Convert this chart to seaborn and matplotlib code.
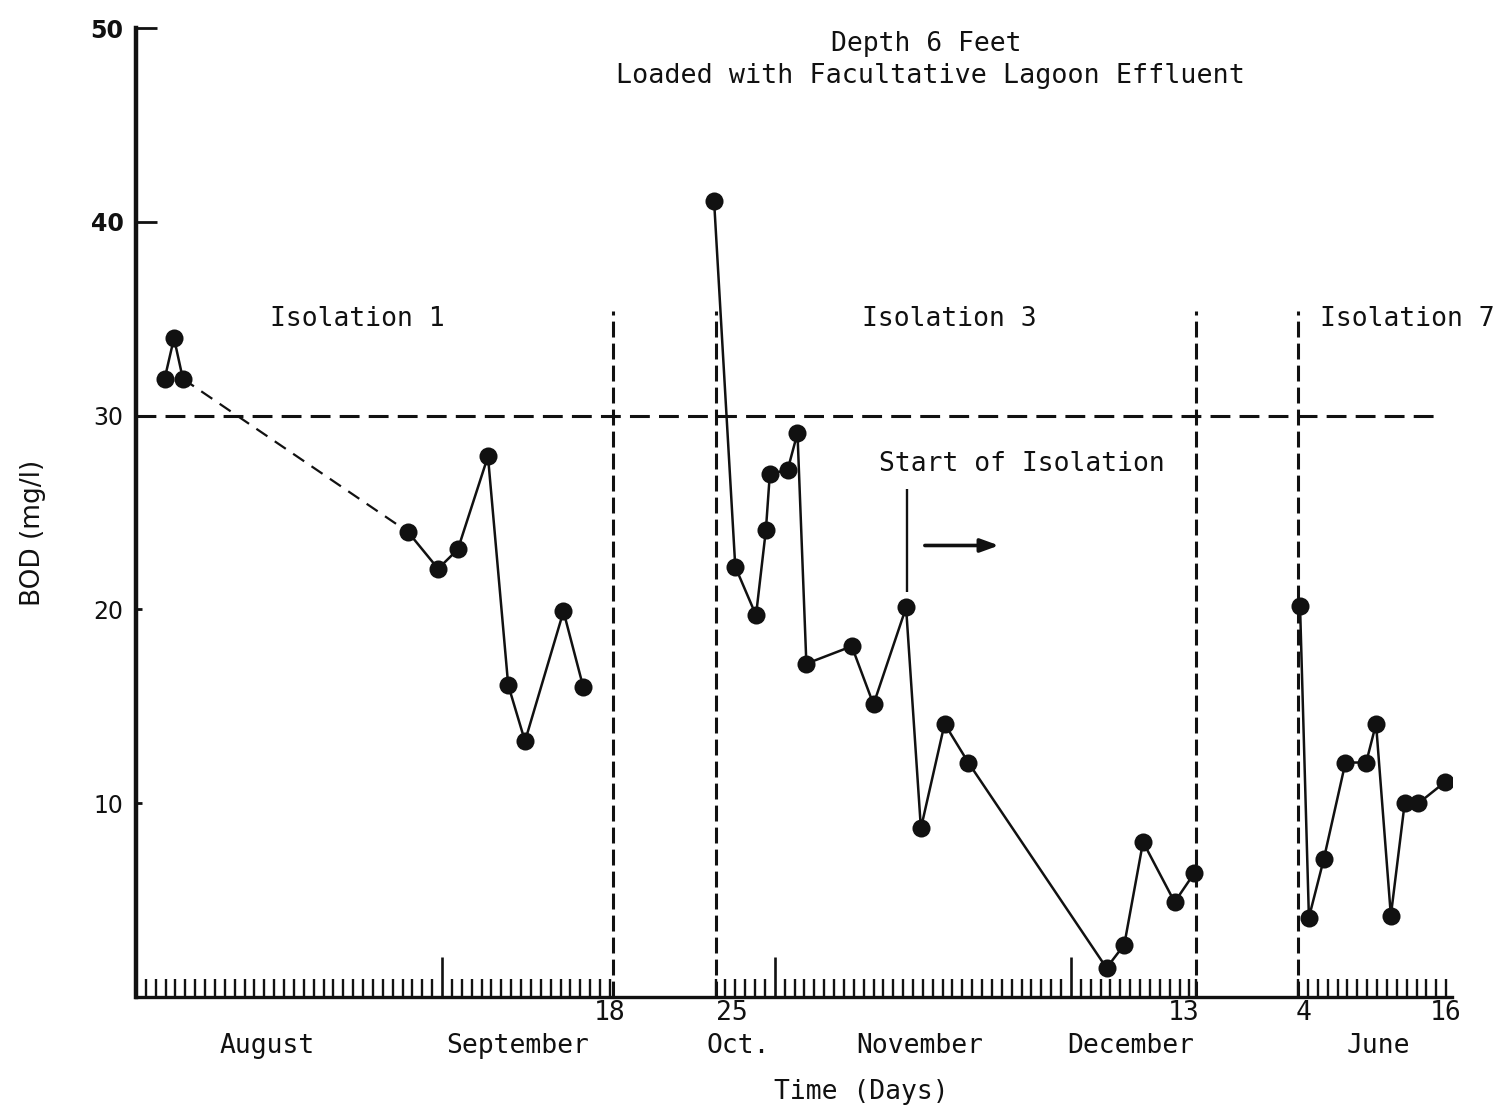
import numpy as np
import pandas as pd
import matplotlib
matplotlib.use("Agg")
import matplotlib.pyplot as plt
import seaborn as sns

# Time axis is compressed: one unit per day slot, 1 August = 0.
# Effluent BOD (mg/l) for each isolation period.
iso1_day = [2.9, 3.85, 4.75, 27.55, 30.6, 32.6, 35.65, 37.7, 39.4, 43.3, 45.3]
iso1_bod = [31.9, 34.0, 31.9, 24.0, 22.1, 23.1, 27.9, 16.1, 13.2, 19.9, 16.0]

iso3_day = [58.55, 60.7, 62.8, 63.8, 64.2, 66.0, 67.0, 67.9, 72.5, 74.7, 78.0,
            79.5, 81.9, 84.3, 98.3, 100.1, 102.0, 105.2, 107.2]
iso3_bod = [41.1, 22.2, 19.7, 24.1, 27.0, 27.2, 29.1, 17.2, 18.1, 15.1, 20.1,
            8.7, 14.1, 12.1, 1.5, 2.7, 8.0, 4.9, 6.4]

iso7_day = [117.9, 118.8, 120.3, 122.5, 124.6, 125.6, 127.1, 128.5, 129.9, 132.6]
iso7_bod = [20.2, 4.1, 7.1, 12.1, 12.1, 14.1, 4.2, 10.0, 10.0, 11.1]

bod_limit = 30
period_bounds = [48.3, 58.7, 107.4, 117.7]

day_labels = ["18", "25", "13", "4", "16"]
day_label_pos = [48.0, 60.4, 106.1, 118.3, 132.7]
month_labels = ["August", "September", "Oct.", "November", "December", "June"]
month_label_pos = [13.3, 38.7, 61.0, 79.4, 100.8, 125.8]
period_labels = ["Isolation 1", "Isolation 3", "Isolation 7"]
period_label_pos = [22.4, 82.4, 128.8]
y_ticks = [10, 20, 30, 40, 50]

sns.set_style("white")
mono = ["DejaVu Sans Mono"]
plt.rcParams["font.family"] = ["DejaVu Sans"]

fig = plt.figure(figsize=(15.01, 11.13), dpi=100)
ax = fig.add_axes([0.0906, 0.1042, 0.8768, 0.8706])
ink = "#111111"

line_kw = dict(color=ink, linewidth=1.8, marker="o", markersize=13,
               markeredgewidth=0, markerfacecolor=ink, estimator=None, ax=ax)

# Isolation 1: early samples, dashed gap, then weekly samples
sns.lineplot(x=iso1_day[:3], y=iso1_bod[:3], **line_kw)
sns.lineplot(x=iso1_day[2:4], y=iso1_bod[2:4], color=ink, linewidth=1.6,
             linestyle=(0, (6.0, 4.0)), estimator=None, ax=ax)
sns.lineplot(x=iso1_day[3:], y=iso1_bod[3:], **line_kw)
# Isolation 3 and 7
sns.lineplot(x=iso3_day, y=iso3_bod, **line_kw)
sns.lineplot(x=iso7_day, y=iso7_bod, **line_kw)

# Reference BOD limit and period boundaries
ax.hlines(bod_limit, 0, 132.1, color=ink, linewidth=2.2,
          linestyles=[(0, (6.5, 3.0))], zorder=1)
for b in period_bounds:
    ax.vlines(b, 0, 35.4, color=ink, linewidth=2.2,
              linestyles=[(0, (5.2, 2.0))], zorder=1)

# Start-of-isolation marker
ax.vlines(78.1, 20.9, 26.2, color=ink, linewidth=1.7)
ax.annotate("", xy=(87.4, 23.3), xytext=(79.9, 23.3),
            arrowprops=dict(arrowstyle="-|>,head_length=1.1,head_width=0.4",
                            color=ink, lw=2.6, shrinkA=0, shrinkB=0))
ax.text(89.7, 27.5, "Start of Isolation", family=mono, fontsize=19,
        ha="center", va="center", color=ink)

for lab, xp in zip(period_labels, period_label_pos):
    ax.text(xp, 35.0, lab, family=mono, fontsize=19, ha="center",
            va="center", color=ink, clip_on=False)

# Title block
ax.text(80.0, 49.2, "Depth 6 Feet", family=mono, fontsize=19,
        ha="center", va="center", color=ink)
ax.text(80.5, 47.55, "Loaded with Facultative Lagoon Effluent", family=mono,
        fontsize=19.3, ha="center", va="center", color=ink)

# Axes limits and spines
ax.set_xlim(0, 133.3)
ax.set_ylim(0, 50)
sns.despine(ax=ax, top=True, right=True)
ax.spines["left"].set_linewidth(3.2)
ax.spines["bottom"].set_linewidth(2.4)
ax.spines["left"].set_color(ink)
ax.spines["bottom"].set_color(ink)

# Day ticks along the time axis
minor_ticks = np.concatenate([np.arange(0, 49), 58.7 + np.arange(0, 49),
                              [107.4], 117.7 + np.arange(0, 16)])
ax.set_xticks([31, 64.7, 94.7])
ax.set_xticklabels([])
ax.set_xticks(minor_ticks, minor=True)
ax.tick_params(axis="x", which="major", direction="in", length=29, width=1.9,
               color=ink, bottom=True)
ax.tick_params(axis="x", which="minor", direction="in", length=13, width=1.7,
               color=ink, bottom=True)

xt = ax.get_xaxis_transform()
for lab, xp in zip(day_labels, day_label_pos):
    ax.text(xp, -0.0165, lab, transform=xt, family=mono, fontsize=19,
            ha="center", va="center", color=ink, clip_on=False)
for lab, xp in zip(month_labels, month_label_pos):
    ax.text(xp, -0.0505, lab, transform=xt, family=mono, fontsize=19,
            ha="center", va="center", color=ink, clip_on=False)

ax.set_xlabel("Time (Days)", family=mono, fontsize=19, color=ink, va="center")
ax.xaxis.set_label_coords(0.551, -0.098)

# BOD axis
ax.set_yticks(y_ticks)
ax.set_yticklabels([str(v) for v in y_ticks])
ax.tick_params(axis="y", direction="in", length=4, width=2.0, color=ink,
               left=True, pad=9, labelsize=17, labelcolor=ink)
for t in ax.yaxis.get_major_ticks():
    if t.get_loc() >= 40:
        t.tick1line.set_markersize(15)
ax.get_yticklabels()[-1].set_fontweight("bold")
ax.get_yticklabels()[-2].set_fontweight("bold")

ax.set_ylabel("BOD (mg/l)", fontsize=19, color=ink, va="center")
ax.yaxis.set_label_coords(-0.078, 0.479)

fig.savefig("out.png", dpi=100, facecolor="white")
